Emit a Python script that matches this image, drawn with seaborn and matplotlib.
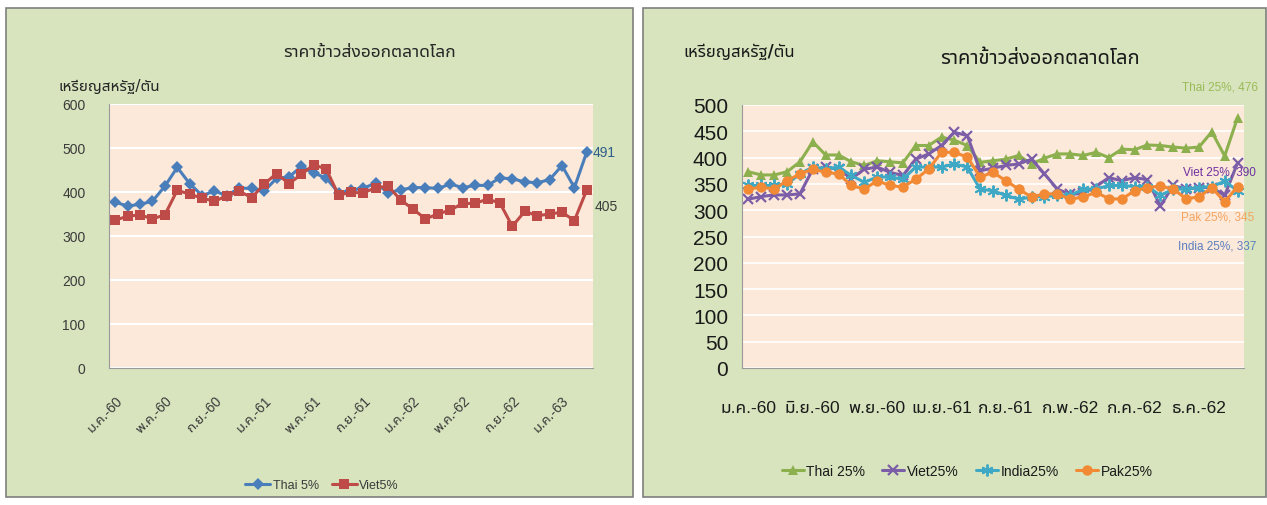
import numpy as np
import pandas as pd
import matplotlib
matplotlib.use('Agg')
import matplotlib.pyplot as plt
import seaborn as sns
from matplotlib import font_manager
from matplotlib.ft2font import FT2Font
from matplotlib.patches import Rectangle
from matplotlib.lines import Line2D
from matplotlib.font_manager import FontProperties

# ---- data ----
# left chart: Thai 5% vs Viet 5%, Jan 60 .. Mar 63 (39 months)
thai5 = [377, 368, 372, 379, 413, 456, 419, 392, 402, 392, 409, 408, 402,
         431, 434, 458, 443, 432, 398, 404, 409, 420, 398, 405, 410, 410,
         408, 418, 410, 415, 415, 432, 430, 423, 421, 428, 460, 410, 491]
viet5 = [336, 345, 348, 339, 348, 404, 395, 386, 379, 391, 402, 387, 418,
         442, 419, 440, 462, 452, 393, 399, 398, 410, 413, 382, 361, 339,
         350, 359, 374, 374, 384, 375, 322, 356, 346, 350, 354, 335, 405]
left_ticklabels = ['ม.ค.-60', 'พ.ค.-60', 'ก.ย.-60', 'ม.ค.-61', 'พ.ค.-61',
                   'ก.ย.-61', 'ม.ค.-62', 'พ.ค.-62', 'ก.ย.-62', 'ม.ค.-63']

# right chart: 25% grades
thai25 = [373, 367, 367, 373, 392, 430, 405, 405, 392, 385, 394, 392, 390,
          423, 423, 439, 433, 423, 391, 394, 397, 404, 388, 399, 407, 407,
          404, 410, 400, 416, 415, 424, 423, 420, 418, 420, 449, 403, 476]
viet25 = [321, 326, 329, 329, 331, 378, 382, 378, 360, 378, 382, 372, 366,
          397, 407, 423, 448, 442, 375, 380, 385, 388, 397, 369, 340, 330,
          332, 345, 362, 356, 362, 358, 308, 347, 340, 343, 343, 328, 390]
india25 = [347, 347, 347, 350, 369, 382, 378, 382, 366, 353, 363, 363, 359,
           382, 382, 382, 388, 382, 340, 337, 328, 321, 325, 326, 328, 328,
           340, 340, 347, 347, 345, 345, 328, 340, 340, 343, 345, 355, 337]
pak25 = [340, 344, 340, 356, 369, 378, 372, 369, 347, 340, 356, 347, 344,
         359, 378, 410, 410, 401, 363, 372, 356, 340, 325, 331, 331, 321,
         325, 334, 322, 321, 337, 343, 346, 340, 322, 325, 343, 316, 345]
right_ticklabels = ['ม.ค.-60', 'มิ.ย.-60', 'พ.ย.-60', 'เม.ย.-61', 'ก.ย.-61',
                    'ก.พ.-62', 'ก.ค.-62', 'ธ.ค.-62']

title = 'ราคาข้าวส่งออกตลาดโลก'
unit = 'เหรียญสหรัฐ/ตัน'

# ---- fonts: pick a Thai-capable family (prefer loopless sans) ----
thai_names = []
for f in font_manager.fontManager.ttflist:
    try:
        ft = FT2Font(f.fname)
        if ft.get_char_index(0x0E01) and ft.get_char_index(0x0E32):
            thai_names.append(f.name)
    except Exception:
        pass


def rank(nm):
    low = nm.lower()
    if 'noto sans thai' in low and 'looped' not in low:
        return 0
    if any(k in low for k in ('kanit', 'prompt', 'sarabun')):
        return 1
    if 'sans' in low or 'loma' in low or 'garuda' in low:
        return 2
    return 3


thai_font = sorted(thai_names, key=rank)[0] if thai_names else None
names = {f.name for f in font_manager.fontManager.ttflist}
latin = 'Liberation Sans' if 'Liberation Sans' in names else 'DejaVu Sans'

sns.set_style('white')
base = [thai_font, 'DejaVu Sans'] if thai_font else ['DejaVu Sans']
plt.rcParams['font.family'] = base
num_fam = [latin] + base


def nprop(size):
    return FontProperties(family=num_fam, size=size)


W, H = 1267, 506
fig = plt.figure(figsize=(W / 100, H / 100), dpi=100)
fig.patch.set_facecolor('white')


def fx(px):
    return px / W


def fy(py):
    return 1 - py / H


# panel backgrounds
for x0, x1 in [(6, 633), (643, 1266)]:
    fig.patches.append(Rectangle((fx(x0), fy(498)), fx(x1 - x0), (498 - 9) / H,
                                 transform=fig.transFigure, facecolor='#d7e4bd',
                                 edgecolor='#7f7f7f', lw=1.2, zorder=-5))

grey = '#9a9a9a'
txt = '#3b3b3b'

# ================= left chart =================
ax1 = fig.add_axes([fx(109), fy(369), fx(593 - 109), (369 - 105) / H])
ax1.set_zorder(2)
ax1.set_facecolor('#fde9d9')
n = len(thai5)
left_styles = [('Thai 5%', thai5, '#4a7ebb', 'D', 6.5),
               ('Viet5%', viet5, '#be4b48', 's', 7.5)]
for name, vals, col, mk, ms in left_styles:
    d = pd.DataFrame({'month': range(n), 'price': vals})
    sns.lineplot(data=d, x='month', y='price', ax=ax1, color=col, marker=mk,
                 markersize=ms, markeredgewidth=0, linewidth=2.2, label=name)
ax1.get_legend().remove()

ax1.set_xlim(-0.5, n - 0.5)
ax1.set_ylim(0, 600)
ax1.set_yticks(range(0, 601, 100))
ax1.yaxis.grid(True, color='white', lw=1.5)
ax1.set_axisbelow(True)
for s in ['top', 'right']:
    ax1.spines[s].set_visible(False)
for s in ['left', 'bottom']:
    ax1.spines[s].set_color(grey)
ax1.set_xlabel('')
ax1.set_ylabel('')
ax1.set_xticks(range(0, n, 4))
ax1.set_xticklabels(left_ticklabels, rotation=45, ha='right',
                    rotation_mode='anchor', color=txt, fontproperties=nprop(10))
ax1.set_xticks(np.arange(-0.5, n - 1, 4), minor=True)
ax1.tick_params(axis='x', which='major', length=0, pad=18)
ax1.tick_params(axis='x', which='minor', length=5, color=grey, direction='out')
ax1.tick_params(axis='y', length=4, color=grey, direction='out', pad=13,
                labelcolor=txt)
for lab in ax1.get_yticklabels():
    lab.set_fontproperties(nprop(10))

ax1.annotate(str(thai5[-1]), (n - 1, thai5[-1]), xytext=(6, 0),
             textcoords='offset pixels', ha='left', va='center',
             color='#2f5d8a', fontproperties=nprop(10), annotation_clip=False)
ax1.annotate(str(viet5[-1]), (n - 1, viet5[-1]), xytext=(8, -16),
             textcoords='offset pixels', ha='left', va='center',
             color=txt, fontproperties=nprop(10), annotation_clip=False)

fig.text(fx(370), fy(52), title, ha='center', va='center', fontsize=12.5,
         fontweight='medium', color='#262626')
fig.text(fx(59), fy(87), unit, ha='left', va='center', fontsize=11,
         fontweight='medium', color='#262626')

h1 = [Line2D([], [], color=c, marker=m, markersize=ms, markeredgewidth=0, lw=2.2)
      for _, _, c, m, ms in left_styles]
fig.legend(h1, [s[0] for s in left_styles], loc='center',
           bbox_to_anchor=(fx(322), fy(486)), ncol=2, frameon=False,
           handlelength=2.0, columnspacing=1.0, handletextpad=0.2,
           prop=nprop(9), labelcolor=txt)

# ================= right chart =================
ax2 = fig.add_axes([fx(742), fy(369), fx(1244 - 742), (369 - 106) / H])
ax2.set_zorder(2)
ax2.set_facecolor('#fde9d9')
right_styles = [('Thai 25%', thai25, '#8db04f', '^', 7.5, 0),
                ('Viet25%', viet25, '#7b5ea7', 'x', 7.5, 1.6),
                ('India25%', india25, '#3fa9c5', (6, 2, 0), 8.5, 1.4),
                ('Pak25%', pak25, '#f28a35', 'o', 7.5, 0)]
for name, vals, col, mk, ms, mew in right_styles:
    d = pd.DataFrame({'month': range(n), 'price': vals})
    sns.lineplot(data=d, x='month', y='price', ax=ax2, color=col, marker=mk,
                 markersize=ms, markeredgewidth=mew, markeredgecolor=col,
                 linewidth=2.2, label=name)
ax2.get_legend().remove()

ax2.set_xlim(-0.5, n - 0.5)
ax2.set_ylim(0, 500)
ax2.set_yticks(range(0, 501, 50))
ax2.yaxis.grid(True, color='white', lw=1.2)
ax2.set_axisbelow(True)
for s in ['top', 'right']:
    ax2.spines[s].set_visible(False)
for s in ['left', 'bottom']:
    ax2.spines[s].set_color(grey)
ax2.set_xlabel('')
ax2.set_ylabel('')
ax2.set_xticks(range(0, n - 1, 5))
ax2.set_xticklabels(right_ticklabels, color='#1a1a1a', fontproperties=nprop(12.5))
ax2.set_xticks(np.arange(-0.5, n - 1, 5), minor=True)
ax2.tick_params(axis='x', which='major', length=0, pad=23)
ax2.tick_params(axis='x', which='minor', length=6, color=grey, direction='out')
ax2.tick_params(axis='y', length=6, color=grey, direction='out', pad=4,
                labelcolor='#1a1a1a')
for lab in ax2.get_yticklabels():
    lab.set_fontproperties(nprop(15))

right_notes = [('Thai 25%, ' + str(thai25[-1]), thai25[-1], (20, 31), '#9bbb59'),
               ('Viet 25%, ' + str(viet25[-1]), viet25[-1], (18, -9), '#7030a0'),
               ('Pak 25%, ' + str(pak25[-1]), pak25[-1], (17, -30), '#f4a460'),
               ('India 25%, ' + str(india25[-1]), india25[-1], (19, -55), '#5b7fbf')]
for label, v, off, col in right_notes:
    ax2.annotate(label, (n - 1, v), xytext=off, textcoords='offset pixels',
                 ha='right', va='center', color=col,
                 fontproperties=nprop(8.5), annotation_clip=False)

fig.text(fx(1040), fy(58), title, ha='center', va='center', fontsize=14.5,
         fontweight='bold', color='#1a1a1a')
fig.text(fx(683), fy(52), unit, ha='left', va='center', fontsize=12,
         fontweight='bold', color='#1a1a1a')

h2 = [Line2D([], [], color=c, marker=m, markersize=ms, markeredgewidth=mew,
             markeredgecolor=c, lw=2.2)
      for _, _, c, m, ms, mew in right_styles]
fig.legend(h2, [s[0] for s in right_styles], loc='center',
           bbox_to_anchor=(fx(967), fy(472)), ncol=4, frameon=False,
           handlelength=1.6, columnspacing=1.2, handletextpad=0.2,
           prop=nprop(10), labelcolor='#1a1a1a')

fig.savefig('out.png', dpi=100, facecolor='white')
